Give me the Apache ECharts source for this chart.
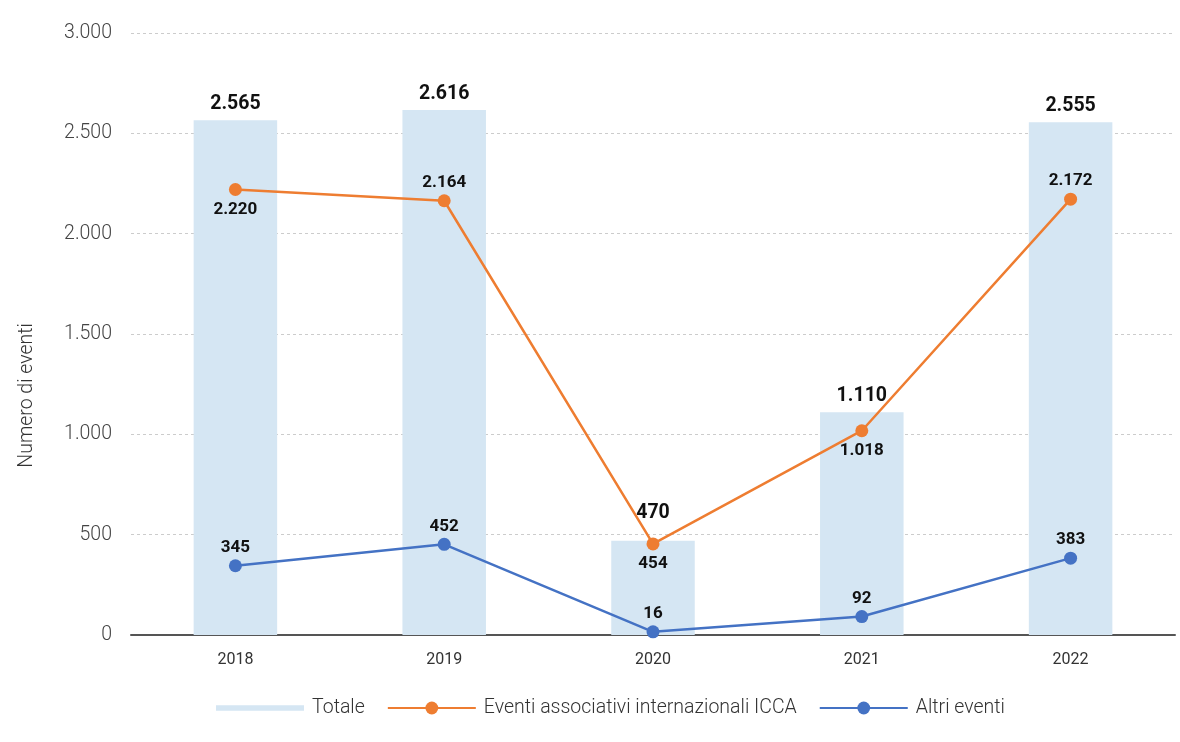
<!DOCTYPE html>
<html>
<head>
<meta charset="utf-8">
<script src="https://cdn.jsdelivr.net/npm/echarts@6/dist/echarts.min.js"></script>
<style>
  html, body { margin: 0; padding: 0; background: #fff; }
  #chart { width: 1180px; height: 742px; }
</style>
</head>
<body>
<div id="chart"></div>
<script>
var years = ['2018', '2019', '2020', '2021', '2022'];
var totale = [2565, 2616, 470, 1110, 2555];
var icca = [2220, 2164, 454, 1018, 2172];
var altri = [345, 452, 16, 92, 383];
// where the ICCA label sits for each year
var iccaLabelPos = ['bottom', 'top', 'bottom', 'bottom', 'top'];

function fmt(v) {
    return String(v).replace(/\B(?=(\d{3})+(?!\d))/g, '.');
}

var chart = echarts.init(document.getElementById('chart'));

var option = {
    animation: false,
    textStyle: { fontFamily: 'Roboto' },
    grid: { left: 131, right: 5, top: 33, bottom: 107 },
    legend: {
        left: 211,
        bottom: 19,
        itemWidth: 88,
        itemHeight: 16,
        itemGap: 22,
        textStyle: { fontSize: 19.5, color: '#333', fontWeight: 300, padding: [0, 0, 0, 3] },
        data: [
            { name: 'Totale', icon: 'path://M0,0h0.01v0.01h-0.01z M0,5h100v6h-100z M99.99,16h0.01v0.01h-0.01z' },
            { name: 'Eventi associativi internazionali ICCA' },
            { name: 'Altri eventi' }
        ]
    },
    graphic: [{
        type: 'text',
        left: 17,
        top: 323,
        rotation: Math.PI / 2,
        style: { text: 'Numero di eventi', fontSize: 19.5, fill: '#333', fontFamily: 'Roboto', fontWeight: 300 }
    }],
    xAxis: {
        type: 'category',
        data: years,
        axisLine: { lineStyle: { color: '#555', width: 2 } },
        axisTick: { show: false },
        axisLabel: { fontSize: 16, color: '#333', margin: 17 }
    },
    yAxis: {
        type: 'value',
        min: 0,
        max: 3000,
        interval: 500,
        axisLine: { show: false },
        axisTick: { show: false },
        axisLabel: { fontSize: 19.5, color: '#444', fontWeight: 300, margin: 19, formatter: fmt },
        splitLine: { lineStyle: { color: '#ccc', type: [3, 3] } }
    },
    series: [
        {
            name: 'Totale',
            type: 'bar',
            data: totale.map(function (v, i) {
                // 2020 label is lifted clear of the ICCA point
                return i === 2 ? { value: v, label: { offset: [0, -12] } } : v;
            }),
            barWidth: '40%',
            itemStyle: { color: '#d5e6f3' },
            label: {
                show: true, position: 'top', distance: 6,
                fontSize: 19.5, fontWeight: 'bold', color: '#111',
                formatter: function (p) { return fmt(p.value); }
            }
        },
        {
            name: 'Eventi associativi internazionali ICCA',
            type: 'line',
            data: icca.map(function (v, i) {
                var pos = iccaLabelPos[i];
                return { value: v, label: { position: pos, distance: pos === 'bottom' ? 5 : 3 } };
            }),
            symbol: 'circle',
            symbolSize: 13,
            lineStyle: { color: '#ee7d31', width: 2.5 },
            itemStyle: { color: '#ee7d31' },
            label: {
                show: true,
                fontSize: 17, fontWeight: 'bold', color: '#111',
                formatter: function (p) { return fmt(p.value); }
            }
        },
        {
            name: 'Altri eventi',
            type: 'line',
            data: altri,
            symbol: 'circle',
            symbolSize: 13,
            lineStyle: { color: '#4472c4', width: 2.5 },
            itemStyle: { color: '#4472c4' },
            label: {
                show: true, position: 'top', distance: 3,
                fontSize: 17, fontWeight: 'bold', color: '#111',
                formatter: function (p) { return fmt(p.value); }
            }
        }
    ]
};

chart.setOption(option);
</script>
</body>
</html>
